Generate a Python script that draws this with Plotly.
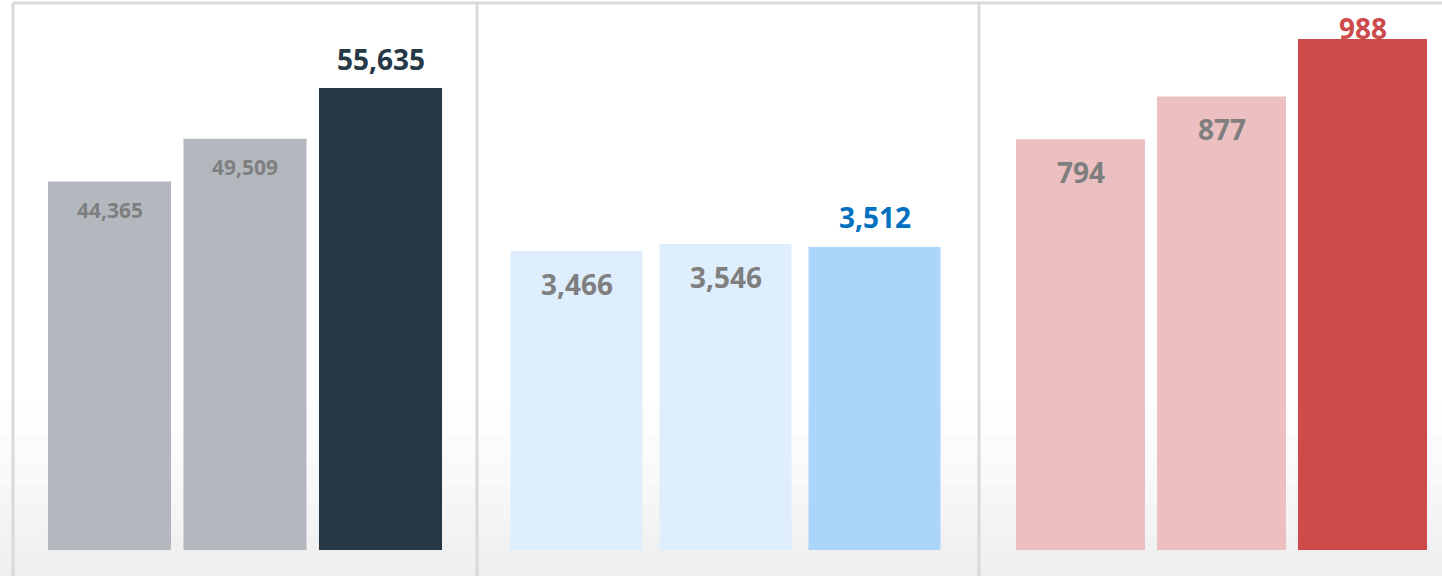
import plotly.graph_objects as go

# ---- data ----
periods = ["Period 1", "Period 2", "Period 3"]
panel1_values = [44365, 49509, 55635]
panel2_values = [3466, 3546, 3512]
panel3_values = [794, 877, 988]

W, H = 1442, 576

panels = [
    dict(values=panel1_values,
         colors=["#b3b8bf", "#b3b8bf", "#263746"],
         label_colors=["#7f7f7f", "#7f7f7f", "#263746"],
         label_sizes=[21, 21, 28],
         shifts=[-28, -28, 29],
         px=(41.75, 448.25), width=0.908, ymax=65870),
    dict(values=panel2_values,
         colors=["#deeefd", "#deeefd", "#abd5fb"],
         label_colors=["#7f7f7f", "#7f7f7f", "#0070c0"],
         label_sizes=[28, 28, 28],
         shifts=[-33, -33, 30],
         px=(502, 949), width=0.886, ymax=6340),
    dict(values=panel3_values,
         colors=["#ecc0c0", "#ecc0c0", "#cd4b4b"],
         label_colors=["#7f7f7f", "#7f7f7f", "#cd4b4b"],
         label_sizes=[28, 28, 28],
         shifts=[-33, -33, 11],
         px=(1010, 1433), width=0.915, ymax=1057.6),
]

fig = go.Figure()
annotations = []
ydom = [(H - 550) / H, (H - 3) / H]

for i, p in enumerate(panels, start=1):
    xa = "x" if i == 1 else f"x{i}"
    ya = "y" if i == 1 else f"y{i}"
    fig.add_trace(go.Bar(
        x=periods, y=p["values"], marker=dict(color=p["colors"], line=dict(width=0)),
        width=p["width"], xaxis=xa, yaxis=ya, showlegend=False, hoverinfo="skip",
    ))
    for cat, v, c, s, sh in zip(periods, p["values"], p["label_colors"], p["label_sizes"], p["shifts"]):
        annotations.append(dict(
            x=cat, y=v, xref=xa, yref=ya, text=f"{v:,}", showarrow=False,
            yanchor="middle", yshift=sh,
            font=dict(family="Open Sans", size=s, color=c, weight="bold"),
        ))
    key = "" if i == 1 else str(i)
    fig.layout[f"xaxis{key}"] = dict(
        domain=[p["px"][0] / W, p["px"][1] / W], range=[-0.5, 2.5],
        showticklabels=False, showgrid=False, zeroline=False, showline=False,
        anchor=ya, fixedrange=True,
    )
    fig.layout[f"yaxis{key}"] = dict(
        domain=ydom, range=[0, p["ymax"]],
        showticklabels=False, showgrid=False, zeroline=False, showline=False,
        anchor=xa, fixedrange=True,
    )

shapes = []
# subtle gray background fade near the bottom
for y0 in [170, 140, 115, 92, 72, 55, 40, 26, 12]:
    shapes.append(dict(type="rect", xref="paper", yref="paper", x0=0, x1=1,
                       y0=0, y1=y0 / H, fillcolor="#e4e2de", opacity=0.07,
                       line=dict(width=0), layer="below"))
# frame / separators
lc = "#d9d9d9"
shapes.append(dict(type="line", xref="paper", yref="paper", x0=13 / W, x1=1,
                   y0=(H - 3) / H, y1=(H - 3) / H, line=dict(color=lc, width=3)))
for xp in [13, 477, 979]:
    shapes.append(dict(type="line", xref="paper", yref="paper", x0=xp / W, x1=xp / W,
                       y0=0, y1=(H - 3) / H, line=dict(color=lc, width=3)))

fig.update_layout(
    width=W, height=H, margin=dict(l=0, r=0, t=0, b=0),
    paper_bgcolor="white", plot_bgcolor="rgba(0,0,0,0)",
    annotations=annotations, shapes=shapes, showlegend=False,
)

fig.write_html("out.html", config={"displayModeBar": False},
               post_script="document.body.style.margin='0px';document.body.style.overflow='hidden';")
